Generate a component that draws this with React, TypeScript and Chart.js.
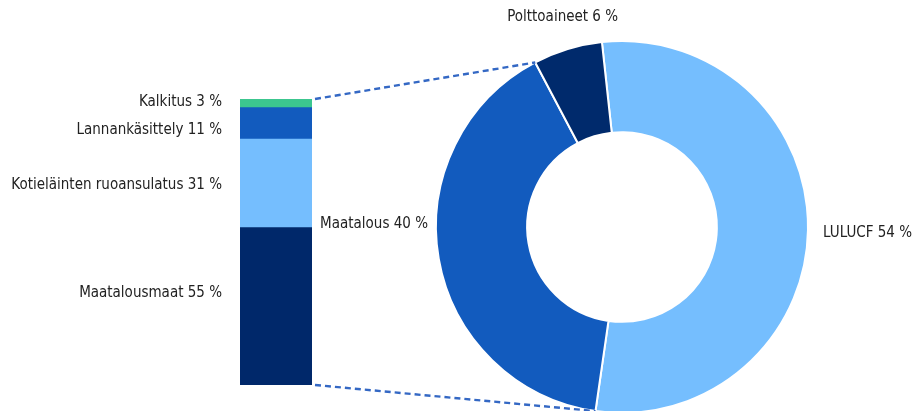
import React, { useEffect, useRef } from "react";
import { Chart, registerables } from "chart.js";

Chart.register(...registerables);

// Donut data (clockwise from the top)
const donutLabels = ["LULUCF", "Maatalous", "Polttoaineet"];
const donutValues = [54, 40, 6];
const donutColors = ["#75BEFE", "#125BBE", "#002A6C"];

// Stacked bar data (bottom to top) – breakdown of "Maatalous"
const barLabels = ["Maatalousmaat", "Kotieläinten ruoansulatus", "Lannankäsittely", "Kalkitus"];
const barValues = [55, 31, 11, 3];
const barColors = ["#00286A", "#75BEFE", "#125BBE", "#3CC68F"];

const FONT = "15px 'Liberation Sans Narrow', 'DejaVu Sans Condensed', sans-serif";
const TEXT = "#222222";
const DASH = "#3468C4";

export default function App() {
  const donutRef = useRef<HTMLCanvasElement | null>(null);
  const barRef = useRef<HTMLCanvasElement | null>(null);

  useEffect(() => {
    const donutLabelPlugin = {
      id: "donutLabels",
      afterDraw(chart: any) {
        const ctx = chart.ctx;
        const arcs = chart.getDatasetMeta(0).data;
        ctx.save();
        ctx.font = FONT;
        ctx.fillStyle = TEXT;
        ctx.textBaseline = "middle";
        const a0 = arcs[0];
        const cx = a0.x, cy = a0.y, R = a0.outerRadius;
        // LULUCF – right of the ring
        ctx.textAlign = "left";
        ctx.fillText(`${donutLabels[0]} ${donutValues[0]} %`, cx + R + 15, cy + 6);
        // Maatalous – left of the ring
        ctx.textAlign = "right";
        ctx.fillText(`${donutLabels[1]} ${donutValues[1]} %`, cx - R - 8, cy - 3);
        // Polttoaineet – above its slice
        const a2 = arcs[2];
        const mid = (a2.startAngle + a2.endAngle) / 2;
        ctx.textAlign = "center";
        ctx.fillText(`${donutLabels[2]} ${donutValues[2]} %`, cx + Math.cos(mid) * R - 5, cy - R - 24);
        ctx.restore();
      },
    };

    const donut = new Chart(donutRef.current as HTMLCanvasElement, {
      type: "doughnut",
      data: {
        labels: donutLabels,
        datasets: [
          {
            data: donutValues,
            backgroundColor: donutColors,
            borderColor: "#ffffff",
            borderWidth: 2,
          },
        ],
      },
      options: {
        responsive: false,
        animation: false,
        rotation: -6.2,
        cutout: "51%",
        layout: { padding: { left: 435, right: 104, top: 40, bottom: 6 } },
        plugins: { legend: { display: false }, tooltip: { enabled: false } },
      },
      plugins: [donutLabelPlugin],
    });

    const nudges = [-13, 2, 7, -1];
    const barPlugin = {
      id: "barExtras",
      afterDraw(chart: any) {
        const ctx = chart.ctx;
        ctx.save();
        ctx.font = FONT;
        ctx.fillStyle = TEXT;
        ctx.textBaseline = "middle";
        ctx.textAlign = "right";
        let left = 0, right = 0, top = Infinity, bottom = -Infinity;
        barLabels.forEach((lab, i) => {
          const el = chart.getDatasetMeta(i).data[0];
          const yc = (el.y + el.base) / 2 + nudges[i];
          left = el.x - el.width / 2;
          right = el.x + el.width / 2;
          top = Math.min(top, el.y);
          bottom = Math.max(bottom, el.base);
          ctx.fillText(`${lab} ${barValues[i]} %`, left - 18, yc);
        });
        // connector lines to the Maatalous slice
        const arcs = donut.getDatasetMeta(0).data as any[];
        const m = arcs[1];
        const R = m.outerRadius;
        const pTop = { x: m.x + Math.cos(m.endAngle) * R, y: m.y + Math.sin(m.endAngle) * R };
        const pBot = { x: m.x + Math.cos(m.startAngle) * R, y: m.y + Math.sin(m.startAngle) * R };
        ctx.strokeStyle = DASH;
        ctx.lineWidth = 2.4;
        ctx.setLineDash([6, 4]);
        ctx.beginPath();
        ctx.moveTo(right + 3, top);
        ctx.lineTo(pTop.x, pTop.y);
        ctx.moveTo(right + 3, bottom);
        ctx.lineTo(pBot.x, pBot.y);
        ctx.stroke();
        ctx.restore();
      },
    };

    const bar = new Chart(barRef.current as HTMLCanvasElement, {
      type: "bar",
      data: {
        labels: ["Maatalous"],
        datasets: barLabels.map((lab, i) => ({
          label: lab,
          data: [barValues[i]],
          backgroundColor: barColors[i],
          borderWidth: 0,
          categoryPercentage: 1,
          barPercentage: 1,
        })),
      },
      options: {
        responsive: false,
        animation: false,
        layout: { padding: { left: 240, right: 601, top: 99, bottom: 26 } },
        scales: {
          x: { stacked: true, display: false },
          y: { stacked: true, display: false, min: 0, max: 100 },
        },
        plugins: { legend: { display: false }, tooltip: { enabled: false } },
      },
      plugins: [barPlugin],
    });

    return () => {
      bar.destroy();
      donut.destroy();
    };
  }, []);

  return (
    <div
      style={{
        position: "absolute",
        left: 0,
        top: 0,
        width: 913,
        height: 411,
        overflow: "hidden",
        background: "#ffffff",
      }}
    >
      <canvas ref={donutRef} width={913} height={420} style={{ position: "absolute", left: 0, top: 0 }} />
      <canvas ref={barRef} width={913} height={411} style={{ position: "absolute", left: 0, top: 0 }} />
    </div>
  );
}
